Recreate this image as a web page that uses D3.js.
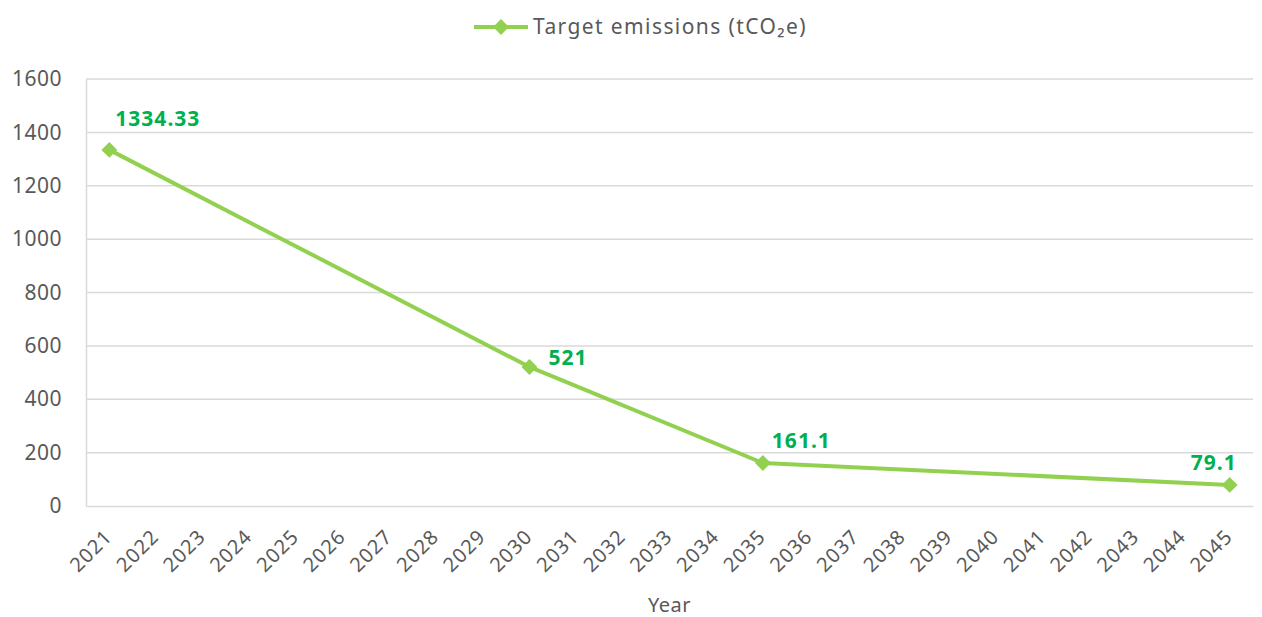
<!DOCTYPE html>
<html lang="en">
<head>
<meta charset="utf-8">
<title>Target emissions</title>
<script src="https://d3js.org/d3.v7.min.js"></script>
<style>
  body { margin: 0; background: #fff; }
  text { font-family: "Noto Sans", Lato, sans-serif; letter-spacing: 0.5px; }
</style>
</head>
<body>
<div id="chart"></div>
<script>
// data
var years = d3.range(2021, 2046).map(String);
var pointYears = ["2021", "2030", "2035", "2045"];
var emissions = [1334.33, 521, 161.1, 79.1];
var yTicks = [0, 200, 400, 600, 800, 1000, 1200, 1400, 1600];
var seriesName = "Target emissions (tCO\u2082e)";

var W = 1262, H = 617;
var margin = {top: 79, right: 9, bottom: 111, left: 86};
var width = W - margin.left - margin.right,
    height = H - margin.top - margin.bottom;

var lineColor = "#92d050", labelColor = "#00b050", textColor = "#595959";

var svg = d3.select("#chart").append("svg")
  .attr("width", W).attr("height", H);

var g = svg.append("g")
  .attr("transform", "translate(" + margin.left + "," + margin.top + ")");

var x = d3.scaleBand().domain(years).range([0, width]);
var y = d3.scaleLinear().domain([0, 1600]).range([height, 0]);

// gridlines
g.selectAll(".grid").data(yTicks.filter(function(d) { return d > 0; }))
  .enter().append("line")
  .attr("x1", 0).attr("x2", width)
  .attr("y1", function(d) { return y(d); }).attr("y2", function(d) { return y(d); })
  .attr("stroke", "#d9d9d9").attr("stroke-width", 1.5);

// y axis
var yAxis = g.append("g")
  .call(d3.axisLeft(y).tickValues(yTicks).tickFormat(d3.format("d")).tickSize(0).tickPadding(24));
yAxis.select(".domain").attr("stroke", "#d9d9d9").attr("stroke-width", 1.5);
yAxis.selectAll("text").attr("fill", textColor).style("font-size", "21px");

// x axis
var xAxis = g.append("g")
  .attr("transform", "translate(0," + height + ")")
  .call(d3.axisBottom(x).tickSize(0).tickPadding(10));
xAxis.select(".domain").attr("stroke", "#d9d9d9").attr("stroke-width", 1.5);
xAxis.selectAll("text")
  .attr("fill", textColor).style("font-size", "20px").style("letter-spacing", "1px")
  .style("text-anchor", "end")
  .attr("dy", "0.35em")
  .attr("transform", "translate(-8,20) rotate(-45)");

// axis title
svg.append("text")
  .attr("x", margin.left + width / 2).attr("y", 612)
  .attr("text-anchor", "middle").attr("fill", textColor)
  .style("font-size", "20px").text("Year");

var pts = pointYears.map(function(yr, i) { return {year: yr, value: emissions[i]}; });
var cx = function(d) { return x(d.year) + x.bandwidth() / 2; };

var line = d3.line().x(cx).y(function(d) { return y(d.value); });

g.append("path").datum(pts)
  .attr("d", line)
  .attr("fill", "none").attr("stroke", lineColor)
  .attr("stroke-width", 4).attr("stroke-linejoin", "round");

var diamond = d3.symbol().type(d3.symbolDiamond2).size(160);

g.selectAll(".marker").data(pts).enter().append("path")
  .attr("d", diamond)
  .attr("transform", function(d) { return "translate(" + cx(d) + "," + y(d.value) + ")"; })
  .attr("fill", lineColor);

// data labels: placement per point
var place = {
  "2021": {dx: 6, dy: -24, anchor: "start"},
  "2030": {dx: 19, dy: -2, anchor: "start"},
  "2035": {dx: 9, dy: -15, anchor: "start"},
  "2045": {dx: 7, dy: -15, anchor: "end"}
};
g.selectAll(".lbl").data(pts).enter().append("text")
  .attr("x", function(d) { return cx(d) + place[d.year].dx; })
  .attr("y", function(d) { return y(d.value) + place[d.year].dy; })
  .attr("text-anchor", function(d) { return place[d.year].anchor; })
  .attr("fill", labelColor)
  .style("font-size", "21px").style("font-weight", "bold").style("letter-spacing", "1px")
  .text(function(d) { return d.value; });

// legend
var leg = svg.append("g").attr("transform", "translate(474,27)");
leg.append("line").attr("x1", 0).attr("x2", 54).attr("y1", 0).attr("y2", 0)
  .attr("stroke", lineColor).attr("stroke-width", 4);
leg.append("path").attr("d", diamond).attr("transform", "translate(27,0)").attr("fill", lineColor);
leg.append("text").attr("x", 59).attr("y", 0).attr("dy", "0.35em")
  .attr("fill", textColor).style("font-size", "21px").style("letter-spacing", "1.4px").text(seriesName);
</script>
</body>
</html>
